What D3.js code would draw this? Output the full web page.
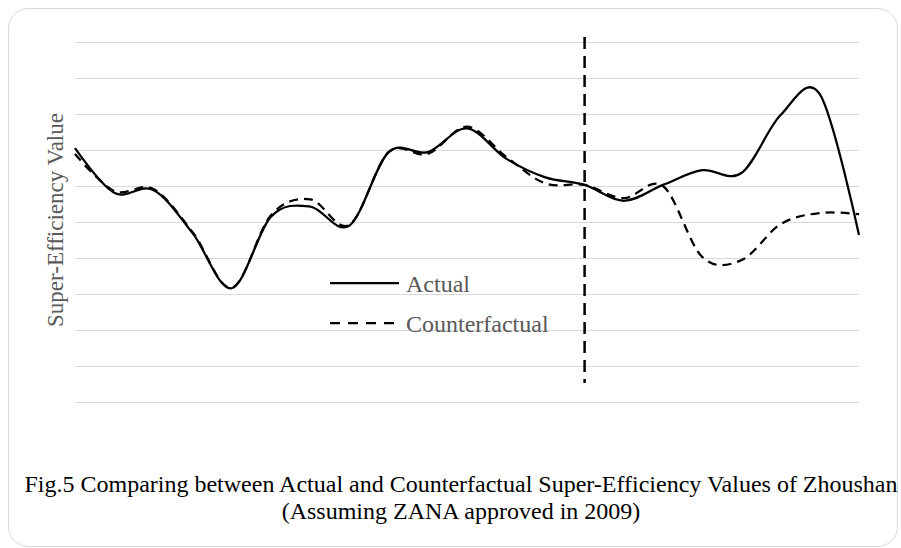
<!DOCTYPE html>
<html>
<head>
<meta charset="utf-8">
<script src="https://cdn.jsdelivr.net/npm/d3@7"></script>
<style>
    body { margin: 0; background: #fff; }
    svg { display: block; font-family: "Times New Roman", "Liberation Serif", serif; }
</style>
</head>
<body>
<svg width="901" height="548"></svg>
<script>
// data, years 1996 - 2016
var years = d3.range(1996, 2017);
var actual = [0.705, 0.581, 0.589, 0.469, 0.316, 0.515, 0.543, 0.490, 0.694, 0.694, 0.760,
    0.676, 0.624, 0.603, 0.559, 0.603, 0.644, 0.636, 0.797, 0.855, 0.464];
var counterfactual = [0.689, 0.586, 0.592, 0.472, 0.317, 0.519, 0.563, 0.492, 0.694, 0.689, 0.765,
    0.681, 0.607, 0.603, 0.566, 0.600, 0.403, 0.394, 0.494, 0.525, 0.522];
var gridTicks = d3.range(0, 1.01, 0.1);
var treatYear = 2009;
var seriesNames = ["Actual", "Counterfactual"];

var svg = d3.select("svg"),
    width = +svg.attr("width"),
    height = +svg.attr("height");

// chart border (rounded card)
svg.append("rect")
    .attr("x", 8.5)
    .attr("y", 8.5)
    .attr("width", 889)
    .attr("height", 538)
    .attr("rx", 20)
    .attr("fill", "#fff")
    .attr("stroke", "#d9d9d9")
    .attr("stroke-width", 1);

var margin = { left: 75, right: 42, top: 42, bottom: 146 };

var x = d3.scalePoint()
    .domain(years)
    .range([margin.left, width - margin.right]);

var y = d3.scaleLinear()
    .domain([0, 1])
    .range([height - margin.bottom, margin.top]);

// horizontal gridlines, no labels
var grid = svg.append("g")
    .attr("transform", "translate(" + margin.left + ",0)")
    .call(d3.axisLeft(y)
        .tickValues(gridTicks)
        .tickSize(-(width - margin.left - margin.right))
        .tickFormat(""));
grid.select(".domain").remove();
grid.selectAll(".tick line")
    .attr("stroke", "#d9d9d9")
    .attr("stroke-width", 1.2);

// smooth lines like excel
var line = d3.line()
    .x(function (d, i) { return x(years[i]); })
    .y(function (d) { return y(d); })
    .curve(d3.curveCardinal.tension(0));

svg.append("path")
    .datum(counterfactual)
    .attr("fill", "none")
    .attr("stroke", "#000")
    .attr("stroke-width", 2.25)
    .attr("stroke-dasharray", "9,6")
    .attr("d", line);

svg.append("path")
    .datum(actual)
    .attr("fill", "none")
    .attr("stroke", "#000")
    .attr("stroke-width", 2.25)
    .attr("d", line);

// policy year marker
svg.append("line")
    .attr("x1", x(treatYear))
    .attr("x2", x(treatYear))
    .attr("y1", y(1.014))
    .attr("y2", y(0.053))
    .attr("stroke", "#000")
    .attr("stroke-width", 2.5)
    .attr("stroke-dasharray", "12,7");

// legend
var legend = svg.append("g")
    .attr("transform", "translate(330,283)");

var item = legend.selectAll("g")
    .data(seriesNames)
    .enter().append("g")
    .attr("transform", function (d, i) { return "translate(0," + (i * 40) + ")"; });

item.append("line")
    .attr("x1", 0)
    .attr("x2", 69)
    .attr("stroke", "#000")
    .attr("stroke-width", 2.25)
    .attr("stroke-dasharray", function (d, i) { return i ? "10,8" : null; });

item.append("text")
    .attr("x", 76)
    .attr("y", 8.5)
    .attr("fill", "#595959")
    .style("font-size", "24px")
    .text(function (d) { return d; });

// y title
svg.append("text")
    .attr("transform", "translate(63,220) rotate(-90)")
    .attr("text-anchor", "middle")
    .attr("fill", "#595959")
    .style("font-size", "23px")
    .text("Super-Efficiency Value");

// caption
var caption = svg.append("text")
    .attr("text-anchor", "middle")
    .attr("fill", "#000")
    .style("font-size", "24px");
caption.append("tspan")
    .attr("x", 461)
    .attr("y", 491.5)
    .text("Fig.5 Comparing between Actual and Counterfactual Super-Efficiency Values of Zhoushan");
caption.append("tspan")
    .attr("x", 461)
    .attr("y", 518.5)
    .text("(Assuming ZANA approved in 2009)");
</script>
</body>
</html>
